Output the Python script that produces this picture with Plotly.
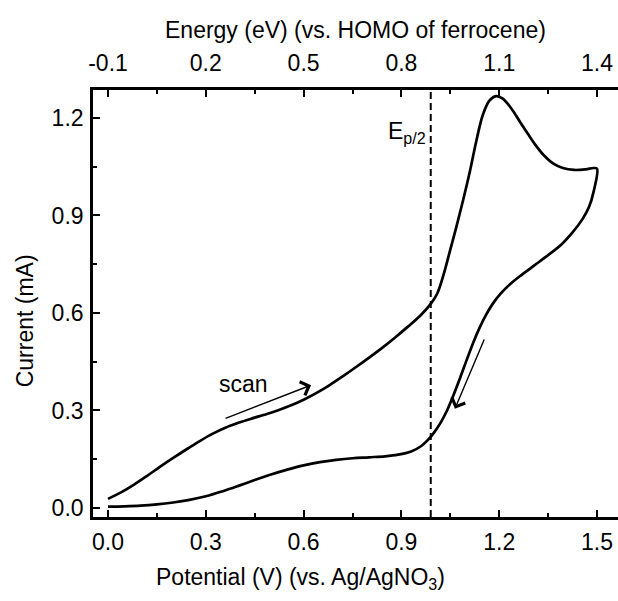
import plotly.graph_objects as go

# ---- data ----
V_FWD = [0.00, 0.04, 0.08, 0.12, 0.16, 0.20, 0.24, 0.28, 0.32, 0.36, 0.40, 0.44, 0.48,
         0.52, 0.56, 0.60, 0.64, 0.68, 0.72, 0.76, 0.80, 0.84, 0.88, 0.92, 0.96, 0.99,
         1.01, 1.03, 1.05, 1.07, 1.09, 1.11, 1.13, 1.15, 1.17, 1.19, 1.21, 1.235, 1.265,
         1.29, 1.315, 1.34, 1.365, 1.395, 1.43, 1.465, 1.49, 1.50]
I_FWD = [0.028, 0.048, 0.072, 0.099, 0.127, 0.154, 0.180, 0.205, 0.228, 0.247, 0.262, 0.275, 0.287,
         0.300, 0.315, 0.333, 0.354, 0.378, 0.405, 0.433, 0.462, 0.492, 0.524, 0.558, 0.594, 0.628,
         0.660, 0.720, 0.795, 0.870, 0.950, 1.035, 1.130, 1.210, 1.253, 1.267, 1.260, 1.232, 1.186,
         1.148, 1.112, 1.082, 1.060, 1.046, 1.040, 1.042, 1.046, 1.044]
V_REV = [1.49, 1.475, 1.455, 1.425, 1.39, 1.35, 1.31, 1.27, 1.235, 1.205, 1.18, 1.16, 1.14,
         1.12, 1.10, 1.08, 1.06, 1.04, 1.02, 1.00, 0.98, 0.96, 0.93, 0.89, 0.85, 0.80,
         0.75, 0.70, 0.65, 0.60, 0.55, 0.50, 0.45, 0.40, 0.35, 0.30, 0.25, 0.20, 0.15,
         0.10, 0.05, 0.00]
I_REV = [0.975, 0.925, 0.888, 0.848, 0.810, 0.778, 0.748, 0.718, 0.690, 0.660, 0.628, 0.595, 0.555,
         0.508, 0.455, 0.400, 0.348, 0.300, 0.262, 0.232, 0.208, 0.190, 0.174, 0.164, 0.159, 0.156,
         0.153, 0.148, 0.141, 0.131, 0.118, 0.103, 0.086, 0.068, 0.051, 0.036, 0.025, 0.017, 0.011,
         0.007, 0.005, 0.004]

X_TICKS = [0.0, 0.3, 0.6, 0.9, 1.2, 1.5]
Y_TICKS = [0.0, 0.3, 0.6, 0.9, 1.2]
E_TICKS = [-0.1, 0.2, 0.5, 0.8, 1.1, 1.4]
E_OFFSET = -0.1          # energy scale = potential + offset
EP2 = 0.99               # E_p/2 potential
EP2_LABEL_Y = 1.154
SCAN_TEXT_POS = [0.417, 0.382]
SCAN_ARROW = [[0.356, 0.274], [0.623, 0.378]]      # tail, head
RETURN_ARROW = [[1.156, 0.523], [1.064, 0.305]]    # tail, head
X_RANGE = [-0.046, 1.5644]
Y_RANGE = [-0.0277, 1.286]

FONT = "Liberation Sans, Arial, sans-serif"
FS = 23

fig = go.Figure()
fig.add_trace(go.Scatter(
    x=V_FWD + V_REV, y=I_FWD + I_REV, mode="lines",
    line=dict(color="black", width=2.7, shape="spline", smoothing=1.0),
    showlegend=False, hoverinfo="skip"))
# invisible trace to bind the top (energy) axis
fig.add_trace(go.Scatter(x=E_TICKS, y=[None] * len(E_TICKS), xaxis="x2",
                         mode="markers", showlegend=False, hoverinfo="skip"))

fig.add_shape(type="line", xref="x", yref="paper", x0=EP2, x1=EP2, y0=0, y1=1,
              line=dict(color="black", width=2, dash="7px,4px"))

axis_common = dict(showline=True, linecolor="black", linewidth=2.6, ticks="inside",
                   ticklen=7, tickwidth=2, tickcolor="black", showgrid=False, zeroline=False,
                   tickfont=dict(family=FONT, size=FS, color="black"),
                   minor=dict(ticks="inside", ticklen=4, tickwidth=2, tickcolor="black",
                              showgrid=False))


def fmt(vals):
    return [f"{v:.1f}" for v in vals]


fig.update_layout(
    width=618, height=601,
    margin=dict(l=93, r=0, t=90, b=84),
    plot_bgcolor="white", paper_bgcolor="white",
    font=dict(family=FONT, size=FS, color="black"),
    xaxis=dict(range=X_RANGE, tickvals=X_TICKS, ticktext=fmt(X_TICKS), ticklabelstandoff=3,
               **{**axis_common, "minor": dict(axis_common["minor"], dtick=0.15, tick0=0)}),
    xaxis2=dict(range=[X_RANGE[0] + E_OFFSET, X_RANGE[1] + E_OFFSET], tickvals=E_TICKS,
                ticktext=fmt(E_TICKS), overlaying="x", side="top", anchor="y",
                ticklabelstandoff=7,
                **{**axis_common, "minor": dict(axis_common["minor"], dtick=0.15, tick0=E_TICKS[0])}),
    yaxis=dict(range=Y_RANGE, tickvals=Y_TICKS, ticktext=fmt(Y_TICKS), ticklabelstandoff=2,
               **{**axis_common, "minor": dict(axis_common["minor"], dtick=0.15, tick0=0)}),
)

annots = [
    dict(text="Potential (V) (vs. Ag/AgNO<sub>3</sub>)", xref="paper", yref="paper",
         x=(300 - 93) / 525, y=-0.145, xanchor="center", yanchor="middle", showarrow=False),
    dict(text="Energy (eV) (vs. HOMO of ferrocene)", xref="paper", yref="paper",
         x=0.5, y=1.14, xanchor="center", yanchor="middle", showarrow=False),
    dict(text="Current (mA)", xref="paper", yref="paper", textangle=-90,
         x=-0.13, y=0.46, xanchor="center", yanchor="middle", showarrow=False),
    dict(text="E<sub>p/2</sub>", x=EP2, y=EP2_LABEL_Y, xref="x", yref="y",
         xanchor="right", yanchor="middle", xshift=-3, showarrow=False),
    dict(text="scan", x=SCAN_TEXT_POS[0], y=SCAN_TEXT_POS[1], xref="x", yref="y",
         xanchor="center", yanchor="middle", showarrow=False),
]
for tail, head in (SCAN_ARROW, RETURN_ARROW):
    annots.append(dict(text="", x=head[0], y=head[1], ax=tail[0], ay=tail[1],
                       xref="x", yref="y", axref="x", ayref="y", showarrow=True,
                       arrowhead=4, arrowsize=2.0, arrowwidth=1.4, arrowcolor="black",
                       standoff=0, startstandoff=0))
fig.update_layout(annotations=annots)

fig.write_html("out.html")
